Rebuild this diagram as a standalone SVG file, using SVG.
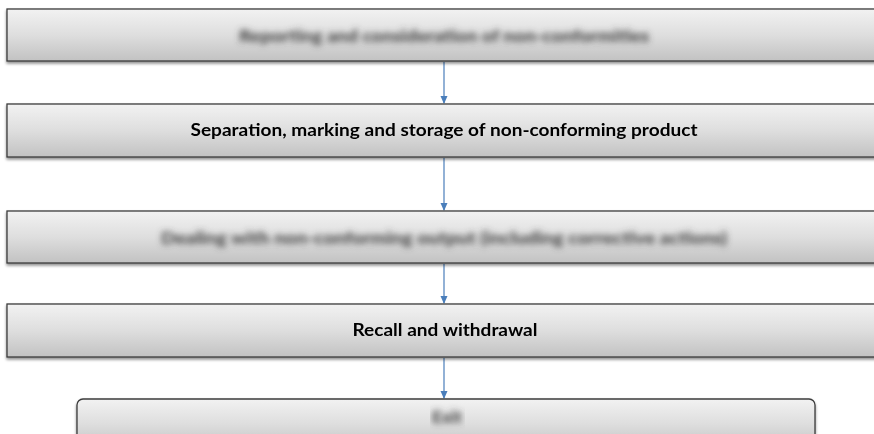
<svg xmlns="http://www.w3.org/2000/svg" width="874" height="434" viewBox="0 0 874 434">
<style>
.box{fill:url(#g);stroke:#3c3c3c;stroke-width:1.3}
.lbl{font-family:Lato,"Liberation Sans",Arial,sans-serif;font-weight:bold;font-size:16.5px;fill:#000;text-anchor:middle}
.blr{font-family:Lato,"Liberation Sans",Arial,sans-serif;font-weight:900;font-size:17px;fill:#444;text-anchor:middle;filter:url(#blur)}
.conn{stroke:#4a7ebb;stroke-width:1.2;fill:none;marker-end:url(#ah)}
</style>
<defs>
<linearGradient id="g" x1="0" y1="0" x2="0" y2="1">
<stop offset="0" stop-color="#f2f2f2"/>
<stop offset="0.5" stop-color="#dedede"/>
<stop offset="1" stop-color="#c2c2c2"/>
</linearGradient>
<filter id="sh" x="-5%" y="-20%" width="110%" height="150%">
<feGaussianBlur in="SourceAlpha" stdDeviation="1.5"/>
<feOffset dx="0" dy="2" result="o"/>
<feComponentTransfer><feFuncA type="linear" slope="0.45"/></feComponentTransfer>
<feMerge><feMergeNode/><feMergeNode in="SourceGraphic"/></feMerge>
</filter>
<filter id="blur" x="-5%" y="-50%" width="110%" height="200%">
<feGaussianBlur stdDeviation="3"/>
</filter>
<marker id="ah" markerWidth="8" markerHeight="8" refX="7" refY="4" orient="auto" markerUnits="userSpaceOnUse">
<path d="M0,0.5 L8,4 L0,7.5 Z" fill="#4a7ebb"/>
</marker>
</defs>
<rect width="874" height="434" fill="#fff"/>
<g id="connectors">
<line class="conn" x1="444" y1="62" x2="444" y2="103"/>
<line class="conn" x1="444" y1="158" x2="444" y2="210"/>
<line class="conn" x1="444" y1="264" x2="444" y2="303"/>
<line class="conn" x1="444" y1="358" x2="444" y2="398"/>
</g>
<g id="n1" filter="url(#sh)">
<rect class="box" x="7" y="9" width="880" height="52"/>
<text class="blr" x="444" y="42" textLength="410" lengthAdjust="spacingAndGlyphs">Reporting and consideration of non-conformities</text>
</g>
<g id="n2" filter="url(#sh)">
<rect class="box" x="7" y="104" width="880" height="53"/>
<text class="lbl" x="444" y="136" textLength="507" lengthAdjust="spacingAndGlyphs">Separation, marking and storage of non-conforming product</text>
</g>
<g id="n3" filter="url(#sh)">
<rect class="box" x="7" y="211" width="880" height="52"/>
<text class="blr" x="444" y="244" textLength="566" lengthAdjust="spacingAndGlyphs">Dealing with non-conforming output (including corrective actions)</text>
</g>
<g id="n4" filter="url(#sh)">
<rect class="box" x="7" y="304" width="880" height="53"/>
<text class="lbl" x="445" y="336" textLength="185" lengthAdjust="spacingAndGlyphs">Recall and withdrawal</text>
</g>
<g id="n5" filter="url(#sh)">
<rect class="box" x="77" y="399" width="738" height="50" rx="6"/>
<text class="blr" x="447" y="423" textLength="30" lengthAdjust="spacingAndGlyphs">Exit</text>
</g>
</svg>
